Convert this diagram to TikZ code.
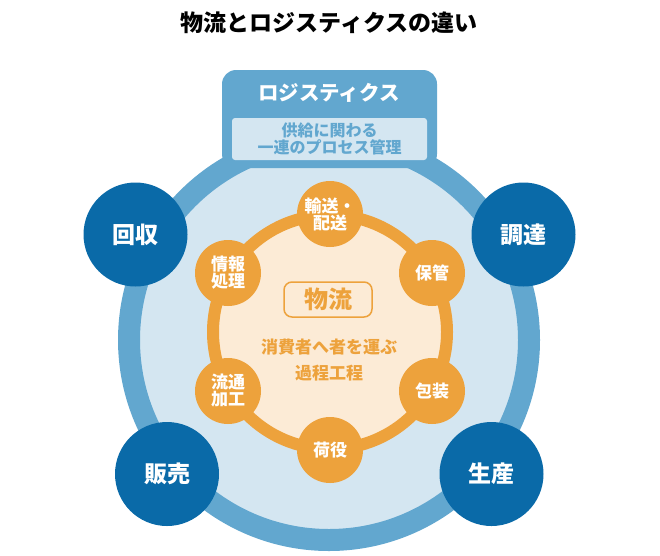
\documentclass[tikz,border=0pt]{standalone}
\usepackage{fontspec}
\setmainfont{Noto Sans CJK JP}
\definecolor{ringblue}{HTML}{62A7CF}
\definecolor{paleblue}{HTML}{D4E6F1}
\definecolor{deepblue}{HTML}{0A6AA8}
\definecolor{ringorange}{HTML}{EDA23C}
\definecolor{cream}{HTML}{FCEBD6}
\tikzset{
  stage/.style={circle, fill=deepblue, minimum size=104pt, inner sep=0pt, text=white, font=\bfseries\fontsize{23}{26}\selectfont},
  task/.style={circle, fill=ringorange, minimum size=66pt, inner sep=0pt, text=white, align=center, font=\bfseries\fontsize{17}{17}\selectfont}
}

\begin{document}
\begin{tikzpicture}[x=1pt,y=-1pt]
\useasboundingbox (0,0) rectangle (660,555);

\node (title) at (329,23)[font=\bfseries\fontsize{23}{28}\selectfont]{物流とロジスティクスの違い};

\begin{scope}
\node (logi) at (329,340)[circle, fill=paleblue, draw=ringblue, line width=22pt, minimum size=400pt]{};
\node (tab) at (329.5,119)[fill=ringblue, rounded corners=14pt, minimum width=215pt, minimum height=98pt]{};
\node (loginame) at (329,93)[text=white, font=\bfseries\fontsize{20.5}{22}\selectfont]{ロジスティクス};
\node (logidesc) at (329.5,139)[fill=paleblue, rounded corners=3pt, minimum width=195pt, minimum height=42pt, inner sep=0pt, text=ringblue, align=center, font=\bfseries\fontsize{16}{17}\selectfont]{供給に関わる\\一連のプロセス管理};
\end{scope}

\begin{scope}
\node (butsuryu) at (330,332)[circle, fill=cream, draw=ringorange, line width=12pt, minimum size=234pt]{};
% \node (butsuryu) at (330,332)[circle, draw=ringorange, minimum size=236pt]{};
\foreach \name/\pos/\txt in {yuso/{(330,214)}/{輸送・\\配送}, hokan/{(432,273)}/保管, hoso/{(432,391)}/包装,
  niyaku/{(330,450)}/荷役, kako/{(228,391)}/{流通\\加工}, joho/{(228,273)}/{情報\\処理}}
  \node (\name) at \pos [task]{\txt};
\node (butsuryuname) at (328,299.5)[draw=ringorange, line width=1.5pt, rounded corners=8pt, minimum width=88pt, minimum height=35pt, text=ringorange, font=\bfseries\fontsize{24}{24}\selectfont]{物流};
\node (butsuryudesc) at (329,360)[text=ringorange, align=center, font=\bfseries\fontsize{17}{26}\selectfont]{消費者へ者を運ぶ\\過程工程};
\end{scope}

\node (kaishu) at (135.5,234.5)[stage]{回収};
\node (chotatsu) at (523.5,234.5)[stage]{調達};
\node (hanbai) at (167,474)[stage]{販売};
\node (seisan) at (491.5,474)[stage]{生産};
\end{tikzpicture}
\end{document}
